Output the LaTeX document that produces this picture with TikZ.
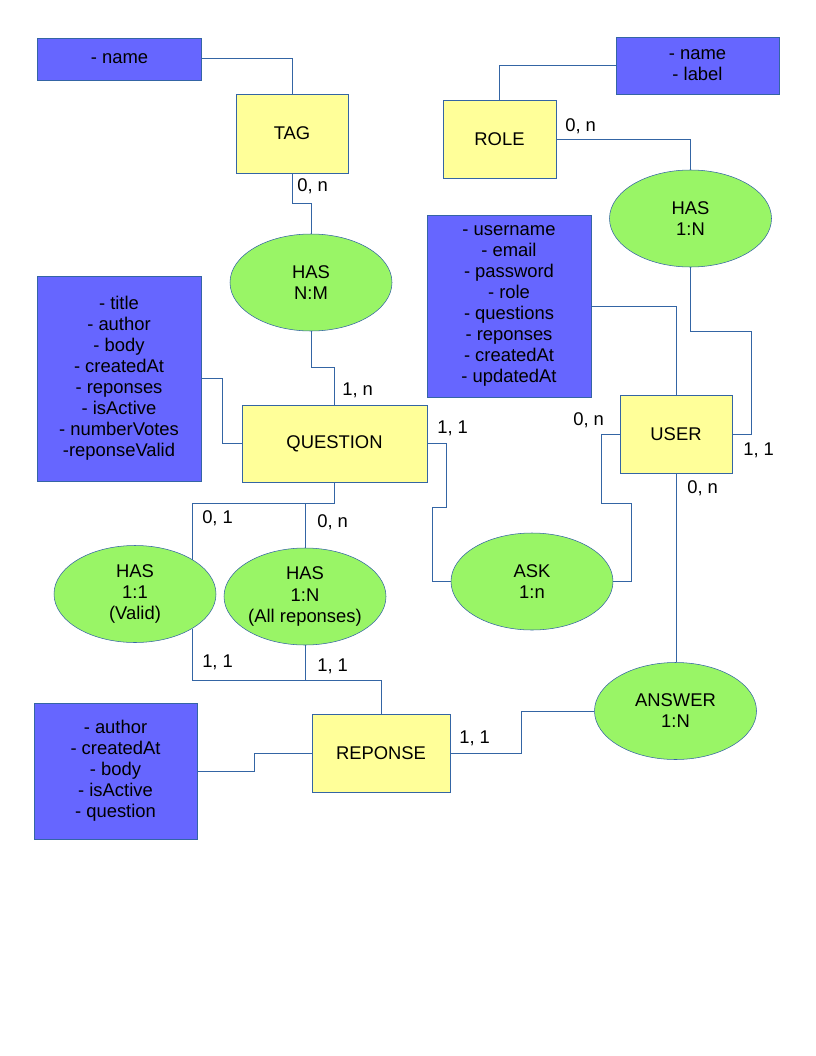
\documentclass[tikz,border=0pt]{standalone}
\usepackage{fontspec}
\setmainfont{Liberation Sans}
\usepackage{tikz}
\usetikzlibrary{shapes.geometric}
\definecolor{attrblue}{RGB}{102,102,255}
\definecolor{entyellow}{RGB}{255,255,153}
\definecolor{relgreen}{RGB}{153,245,102}
\definecolor{linkblue}{RGB}{52,101,164}

\begin{document}
\begin{tikzpicture}[x=0.75pt, y=-0.75pt,
    every node/.style={font=\fontsize{13.8}{15.8}\selectfont, align=center, inner sep=0pt},
    attr/.style 2 args={draw=linkblue, fill=attrblue, minimum width=#1*0.75pt, minimum height=#2*0.75pt},
    entity/.style 2 args={draw=linkblue, fill=entyellow, minimum width=#1*0.75pt, minimum height=#2*0.75pt},
    relation/.style={ellipse, draw=linkblue, fill=relgreen, minimum width=162*0.75pt, minimum height=97*0.75pt},
    card/.style={anchor=west},
    link/.style={draw=linkblue, line width=0.75pt}]
    \fill[white] (0,0) rectangle (816,1056);
    \node[attr={164}{42}] (tagattr) at (119.5,59) {- name};
    \node[entity={112}{79}] (tag) at (292,133.5) {TAG};
    \node[relation] (hasnm) at (311,282.5) {HAS\\N:M};
    \node[attr={164}{205}] (qattr) at (119,378.5) {- title\\- author\\- body\\- createdAt\\- reponses\\- isActive\\- numberVotes\\-reponseValid};
    \node[entity={185}{77}] (question) at (334.5,443.5) {QUESTION};
    \node[attr={163}{57}] (roleattr) at (697.5,65.5) {- name\\- label};
    \node[entity={113}{78}] (role) at (499.5,139) {ROLE};
    \node[relation] (hasrole) at (690.5,218.5) {HAS\\1:N};
    \node[attr={164}{182}] (userattr) at (509,306) {- username\\- email\\- password\\- role\\- questions\\- reponses\\- createdAt\\- updatedAt};
    \node[entity={112}{78}] (user) at (676,434) {USER};
    \node[relation] (ask) at (532,581.5) {ASK\\1:n};
    \node[relation] (answer) at (675.5,711) {ANSWER\\1:N};
    \node[relation] (hasvalid) at (135,594) {HAS\\1:1\\(Valid)};
    \node[relation] (hasall) at (305,596.5) {HAS\\1:N\\(All reponses)};
    \node[entity={138}{78}] (reponse) at (381,753) {REPONSE};
    \node[attr={163}{136}] (rattr) at (115.5,771) {- author\\- createdAt\\- body\\- isActive\\- question};

    \node[card] (ctag) at (297,186) {0, n};
    \node[card] (cqtag) at (342,390) {1, n};
    \node[card] (crole) at (565,126) {0, n};
    \node[card] (curole) at (743,450) {1, 1};
    \node[card] (cuask) at (573,420) {0, n};
    \node[card] (cqask) at (437,428) {1, 1};
    \node[card] (cuanswer) at (687,488) {0, n};
    \node[card] (cranswer) at (459,738) {1, 1};
    \node[card] (cqvalid) at (202,518) {0, 1};
    \node[card] (cqall) at (317,522) {0, n};
    \node[card] (crvalid) at (202,662) {1, 1};
    \node[card] (crall) at (317,666) {1, 1};

    \draw[link] (tagattr.east) -| (tag.north);
    \draw[link] (tag.south) -- ++(0,30) -| (hasnm.north);
    \draw[link] (hasnm.south) -- ++(0,36) -| (question.north);
    \draw[link] (qattr.east) -- ++(21,0) |- (question.west);
    \draw[link] (roleattr.west) -| (role.north);
    \draw[link] (role.east) -| (hasrole.north);
    \draw[link] (hasrole.south) -- ++(0,64) -- ++(61,0) |- (user.east);
    \draw[link] (userattr.east) -| (user.north);
    \draw[link] (user.west) -- ++(-18,0) -- ++(0,69) -- ++(30,0) |- (ask.east);
    \draw[link] (question.east) -- ++(19,0) -- ++(0,64) -- ++(-14,0) |- (ask.west);
    \draw[link] (user.south) -- (user.south |- answer.north);
    \draw[link] (answer.west) -- ++(-73,0) |- (reponse.east);
    \draw[link] (rattr.east) -- ++(57,0) |- (reponse.west);
    \draw[link] (question.south) -- ++(0,21) -| (hasvalid.31);
    \draw[link] (question.south) -- ++(0,21) -| (hasall.north);
    \draw[link] (reponse.north) -- ++(0,-33) -| (hasvalid.-31);
    \draw[link] (reponse.north) -- ++(0,-33) -| (hasall.south);
\end{tikzpicture}
\end{document}
